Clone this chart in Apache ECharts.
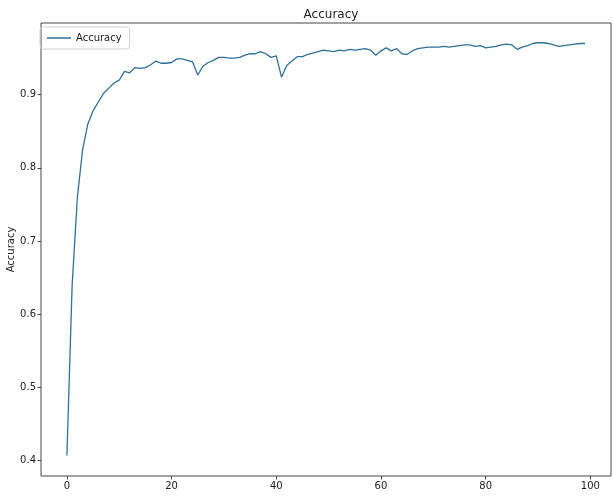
<!DOCTYPE html>
<html>
<head>
<meta charset="utf-8">
<script src="https://cdn.jsdelivr.net/npm/echarts@6/dist/echarts.min.js"></script>
<style>
  html, body { margin: 0; padding: 0; background: #fff; }
  #chart { width: 613px; height: 496px; }
</style>
</head>
<body>
<div id="chart"></div>
<script>
// epochs 0..99
const epochs = Array.from({ length: 100 }, (_, i) => i);
const accuracy = [
  0.407, 0.64, 0.76, 0.825, 0.86, 0.878, 0.89, 0.902, 0.909, 0.916,
  0.92, 0.932, 0.930, 0.937, 0.936, 0.937, 0.941, 0.946, 0.943, 0.943,
  0.944, 0.949, 0.949, 0.947, 0.945, 0.927, 0.939, 0.944, 0.947, 0.951,
  0.951, 0.950, 0.950, 0.951, 0.954, 0.956, 0.956, 0.959, 0.956, 0.951,
  0.953, 0.924, 0.940, 0.946, 0.952, 0.952, 0.955, 0.957, 0.959, 0.961,
  0.960, 0.959, 0.961, 0.960, 0.962, 0.961, 0.962, 0.963, 0.961, 0.954,
  0.960, 0.964, 0.960, 0.963, 0.956, 0.955, 0.960, 0.963, 0.964, 0.965,
  0.965, 0.965, 0.966, 0.965, 0.966, 0.967, 0.968, 0.968, 0.966, 0.967,
  0.964, 0.965, 0.966, 0.968, 0.969, 0.968, 0.962, 0.965, 0.967, 0.970,
  0.971, 0.971, 0.970, 0.968, 0.966, 0.967, 0.968, 0.969, 0.970, 0.970
];
const xTicks = [0, 20, 40, 60, 80, 100];
const yTicks = [0.4, 0.5, 0.6, 0.7, 0.8, 0.9];

const chart = echarts.init(document.getElementById('chart'));
const font = 'DejaVu Sans';
const lineColor = '#2f6f98';
chart.setOption({
  animation: false,
  textStyle: { fontFamily: font },
  title: {
    text: 'Accuracy',
    left: 326,
    textAlign: 'center',
    top: 4,
    textStyle: { fontSize: 12, fontWeight: 'normal', color: '#222', fontFamily: font }
  },
  legend: {
    left: 40,
    top: 27,
    orient: 'vertical',
    icon: 'rect',
    borderColor: '#d0d0d0',
    borderWidth: 1,
    borderRadius: 3,
    padding: [6, 8, 6, 7],
    itemWidth: 24,
    itemHeight: 1.5,
    itemGap: 6,
    textStyle: { fontSize: 10, color: '#222', fontFamily: font }
  },
  grid: {
    left: 41,
    right: 2,
    top: 23,
    bottom: 20,
    containLabel: false,
    outerBoundsMode: 'none',
    show: true,
    borderColor: '#444',
    borderWidth: 1
  },
  xAxis: {
    type: 'value',
    min: -4.95,
    max: 103.95,
    splitLine: { show: false },
    axisLine: { show: false, onZero: false },
    axisTick: { show: true, length: 3.5, customValues: xTicks, lineStyle: { color: '#444' } },
    axisLabel: { customValues: xTicks, fontSize: 10, color: '#222', margin: 5 }
  },
  yAxis: {
    type: 'value',
    min: 0.379,
    max: 0.998,
    name: 'Accuracy',
    nameLocation: 'middle',
    nameRotate: 90,
    nameGap: 25,
    nameMoveOverlap: false,
    nameTextStyle: { fontSize: 10, color: '#222' },
    splitLine: { show: false },
    axisLine: { show: false, onZero: false },
    axisTick: { show: true, length: 3.5, customValues: yTicks, lineStyle: { color: '#444' } },
    axisLabel: {
      customValues: yTicks,
      fontSize: 10,
      color: '#222',
      margin: 5,
      formatter: v => v.toFixed(1)
    }
  },
  series: [{
    name: 'Accuracy',
    type: 'line',
    data: epochs.map((e, i) => [e, accuracy[i]]),
    symbol: 'none',
    showSymbol: false,
    lineStyle: { color: lineColor, width: 1.3 },
    itemStyle: { color: lineColor }
  }]
});
</script>
</body>
</html>
